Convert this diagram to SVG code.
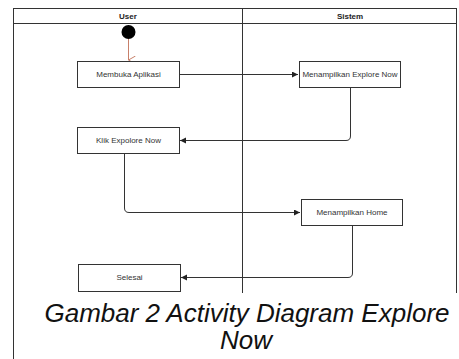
<svg xmlns="http://www.w3.org/2000/svg" width="459" height="359" viewBox="0 0 459 359">
<style>
.lane{fill:none;stroke:#333;stroke-width:1}
.box{fill:#fff;stroke:#333;stroke-width:1}
.t{font-family:"Liberation Sans",Arial,sans-serif;font-size:8px;fill:#333;text-anchor:middle}
.h{font-family:"Liberation Sans",Arial,sans-serif;font-size:8px;fill:#222;text-anchor:middle;font-weight:bold}
.c{fill:none;stroke:#333;stroke-width:1}
.cap{font-family:"Liberation Sans",Arial,sans-serif;font-size:26px;font-style:italic;fill:#111;text-anchor:middle}
</style>
<defs>
<marker id="ah" markerWidth="8" markerHeight="8" refX="6" refY="3" orient="auto" markerUnits="userSpaceOnUse">
<path d="M0,0 L6,3 L0,6 Z" fill="#222"/>
</marker>
<marker id="ahr" markerWidth="10" markerHeight="10" refX="4" refY="7" orient="auto" markerUnits="userSpaceOnUse">
<path d="M0,0 L4,7 L8,0" fill="none" stroke="#c8806a" stroke-width="1"/>
</marker>
</defs>
<rect width="459" height="359" fill="#fff"/>
<g id="lanes">
<line class="lane" x1="13.5" y1="8.5" x2="456.5" y2="8.5"/>
<line class="lane" x1="13.5" y1="23.5" x2="456.5" y2="23.5"/>
<line class="lane" x1="13.5" y1="8" x2="13.5" y2="359"/>
<line class="lane" x1="456.5" y1="8" x2="456.5" y2="293"/>
<line class="lane" x1="242.5" y1="8" x2="242.5" y2="293"/>
<text class="h" x="128" y="19">User</text>
<text class="h" x="350" y="19">Sistem</text>
</g>
<g id="connectors">
<line x1="128.5" y1="39" x2="128.5" y2="60" stroke="#c8806a" stroke-width="1" fill="none" marker-end="url(#ahr)"/>
<path class="c" d="M179,74.5 H298" marker-end="url(#ah)"/>
<path class="c" d="M350.5,87 V136 Q350.5,140.5 346,140.5 H180" marker-end="url(#ah)"/>
<path class="c" d="M124.5,153 V208 Q124.5,212.5 129,212.5 H300" marker-end="url(#ah)"/>
<path class="c" d="M352.5,225 V273 Q352.5,277.5 348,277.5 H181" marker-end="url(#ah)"/>
</g>
<g id="start"><circle cx="128.5" cy="32" r="7" fill="#000"/></g>
<g id="n1"><rect class="box" x="77.5" y="61.5" width="102" height="26"/><text class="t" x="128.5" y="77">Membuka Aplikasi</text></g>
<g id="n2"><rect class="box" x="299.5" y="61.5" width="101" height="26"/><text class="t" x="350" y="77">Menampilkan Explore Now</text></g>
<g id="n3"><rect class="box" x="77.5" y="127.5" width="102" height="26"/><text class="t" x="128.5" y="143">Klik Expolore Now</text></g>
<g id="n4"><rect class="box" x="301.5" y="199.5" width="101" height="26"/><text class="t" x="352" y="215">Menampilkan Home</text></g>
<g id="n5"><rect class="box" x="78.5" y="264.5" width="102" height="27"/><text class="t" x="129.5" y="280">Selesai</text></g>
<g id="caption">
<rect x="14" y="293" width="445" height="66" fill="#fff"/>
<text class="cap" x="247" y="322">Gambar 2 Activity Diagram Explore</text>
<text class="cap" x="246" y="349">Now</text>
</g>
</svg>
